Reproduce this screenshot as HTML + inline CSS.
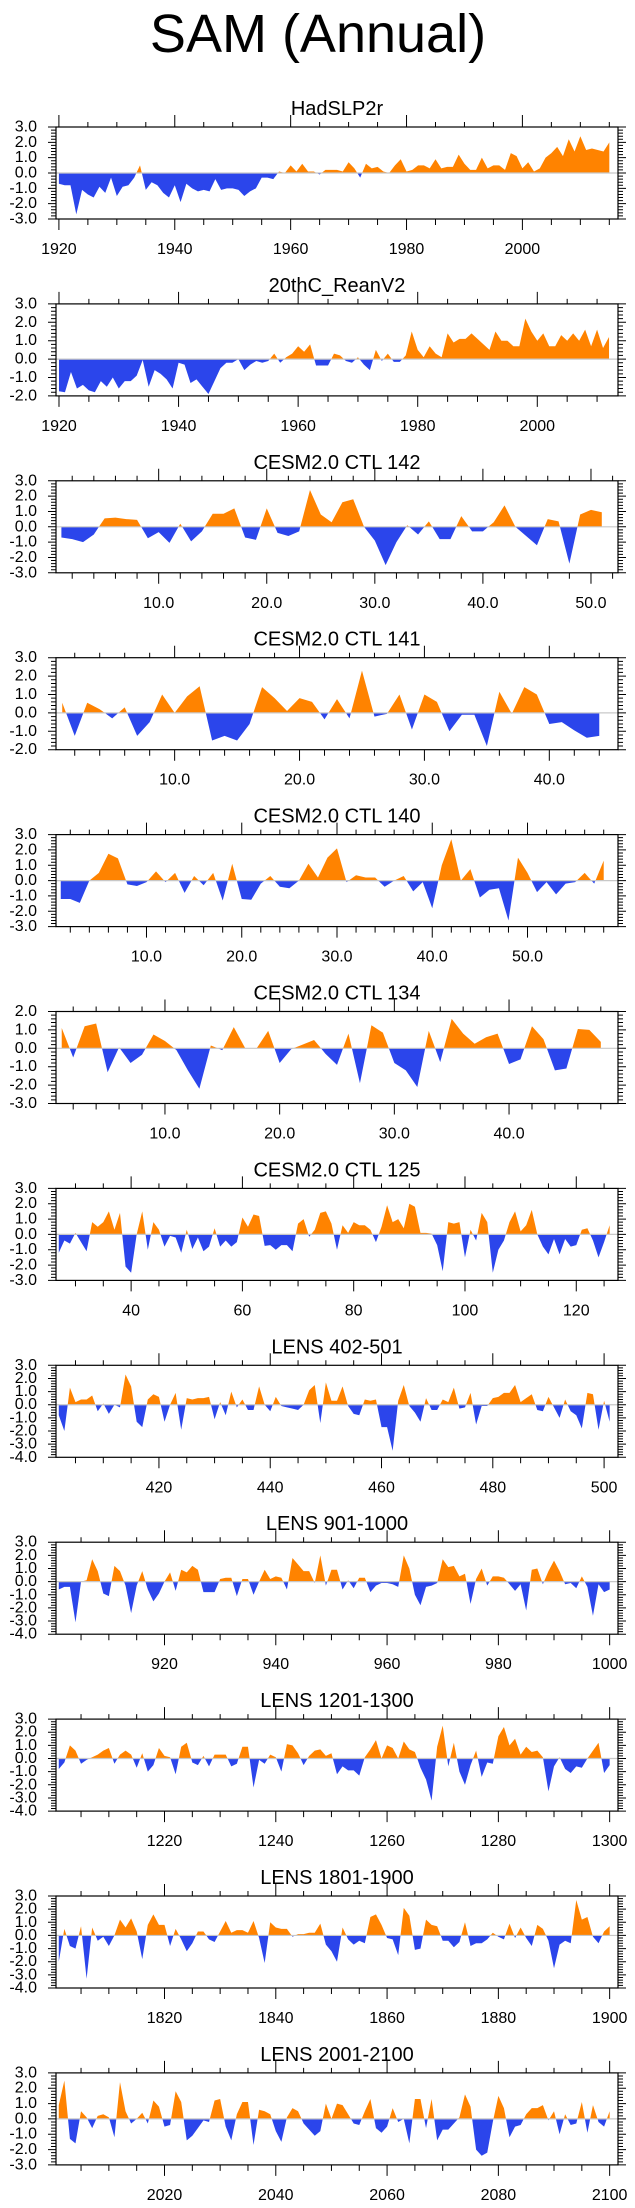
<!DOCTYPE html>
<html><head><meta charset="utf-8"><title>SAM (Annual)</title>
<style>
html,body{margin:0;padding:0;background:#fff;}
svg{display:block;font-family:"Liberation Sans",Arial,sans-serif;}
</style></head>
<body>
<svg id="chart" width="635" height="2208" viewBox="0 0 635 2208" xmlns="http://www.w3.org/2000/svg">
<rect x="0" y="0" width="635" height="2208" fill="#fff"/>
<text x="318" y="52" font-size="54" text-anchor="middle">SAM (Annual)</text>
</svg>
<script>
const panelTitles = ["HadSLP2r","20thC_ReanV2","CESM2.0 CTL 142","CESM2.0 CTL 141","CESM2.0 CTL 140","CESM2.0 CTL 134","CESM2.0 CTL 125","LENS 402-501","LENS 901-1000","LENS 1201-1300","LENS 1801-1900","LENS 2001-2100"];
const startYears = [1920,1920,1,1,1,1,27,402,901,1201,1801,2001];
const yMins = [-3,-2,-3,-2,-3,-3,-3,-4,-4,-4,-4,-3];
const yMaxs = [3,3,3,3,3,2,3,3,3,3,3,3];
const xMajorSteps = [20,20,10,10,10,10,20,20,20,20,20,20];
const xMinorSteps = [5,5,2,2,2,2,5,5,5,5,5,5];

const hadslp2r = [-0.7,-0.8,-0.8,-2.7,-1.1,-1.4,-1.6,-0.9,-1.3,-0.3,
-1.5,-0.9,-0.8,-0.3,0.5,-1.1,-0.6,-0.8,-1.3,-1.6,
-0.8,-1.9,-0.7,-1.0,-1.2,-1.1,-1.2,-0.4,-1.1,-1.0,
-1.0,-1.1,-1.5,-1.2,-1.0,-0.3,-0.3,-0.4,0.1,0.0,
0.5,0.1,0.6,0.1,0.1,-0.1,0.2,0.2,0.2,0.1,
0.7,0.3,-0.3,0.6,0.3,0.4,0.1,0.0,0.5,0.9,
0.1,0.2,0.5,0.5,0.3,0.9,0.3,0.4,0.4,1.2,
0.6,0.2,0.2,1.0,0.3,0.5,0.5,0.2,1.3,1.1,
0.3,0.7,0.1,0.3,1.0,1.3,1.7,1.1,2.2,1.4,
2.4,1.5,1.6,1.5,1.4,2.0];
const reanV2 = [-1.75,-1.8,-0.7,-1.6,-1.4,-1.7,-1.8,-1.2,-1.5,-1.0,
-1.6,-1.2,-1.2,-0.9,-0.05,-1.5,-0.6,-0.8,-1.1,-1.6,
-0.2,-0.3,-1.3,-1.1,-1.5,-1.9,-1.2,-0.5,-0.2,-0.2,
0.0,-0.6,-0.3,-0.1,-0.2,-0.1,0.3,-0.2,0.1,0.3,
0.7,0.4,0.8,-0.35,-0.35,-0.35,0.3,0.2,-0.1,-0.2,
0.1,-0.3,-0.6,0.5,-0.1,0.3,-0.15,-0.15,0.2,1.5,
0.5,0.1,0.7,0.3,0.1,1.4,0.9,1.1,1.1,1.4,
1.1,0.8,0.5,1.5,1.0,1.0,0.7,0.7,2.2,1.5,
1.0,1.4,0.7,0.7,1.3,1.0,1.4,1.0,1.6,0.7,
1.6,0.6,1.2];
const ctl142 = [-0.7,-0.8,-1.0,-0.5,0.55,0.6,0.5,0.45,-0.75,-0.35,
-1.05,0.2,-0.95,-0.3,0.85,0.85,1.2,-0.7,-0.85,1.2,
-0.4,-0.6,-0.3,2.4,0.8,0.3,1.6,1.8,0.0,-0.9,
-2.5,-1.0,0.1,-0.5,0.35,-0.8,-0.8,0.7,-0.3,-0.3,
0.3,1.4,0.0,-0.6,-1.2,0.5,0.35,-2.4,0.8,1.1,0.95];
const ctl141 = [0.55,-1.25,0.55,0.2,-0.3,0.3,-1.25,-0.5,1.0,0.0,
0.9,1.45,-1.5,-1.25,-1.5,-0.6,1.4,0.8,0.1,0.8,
0.6,-0.35,0.75,-0.3,2.3,-0.2,-0.05,1.0,-0.9,1.0,
0.6,-1.0,-0.1,-0.1,-1.8,1.15,-0.05,1.4,1.0,-0.6,
-0.5,-0.95,-1.35,-1.25];
const ctl140 = [-1.2,-1.2,-1.45,0.0,0.5,1.75,1.45,-0.25,-0.35,-0.1,
0.6,-0.1,0.5,-0.8,0.3,-0.3,0.5,-1.3,1.1,-1.2,
-1.25,-0.2,0.3,-0.4,-0.5,0.0,1.1,0.2,1.5,2.1,
-0.1,0.35,0.2,0.2,-0.4,0.0,0.3,-0.7,-0.1,-1.8,
1.0,2.7,0.0,0.75,-1.1,-0.6,-0.5,-2.6,1.5,0.5,
-0.75,-0.1,-0.9,-0.2,-0.1,0.5,-0.2,1.3];
const ctl134 = [1.1,-0.5,1.2,1.35,-1.3,0.05,-0.8,-0.35,0.75,0.4,
-0.1,-1.2,-2.2,0.15,-0.1,1.15,0.0,0.0,0.95,-0.8,
-0.05,0.2,0.45,-0.3,-0.9,0.8,-1.9,1.25,0.85,-0.8,
-1.2,-2.1,0.95,-0.75,1.6,0.8,0.25,0.6,0.8,-0.85,
-0.6,1.2,0.5,-1.2,-1.1,1.05,1.0,0.35];
const ctl125 = [-1.2,-0.4,-0.6,0.1,-0.5,-1.1,0.8,0.5,0.8,1.5,
0.3,1.4,-2.1,-2.5,0.0,1.5,-1.0,0.8,0.3,-0.8,
-0.1,-0.2,-1.2,0.3,-0.95,-0.2,-1.1,-0.8,0.4,-0.8,
-0.4,-0.8,-0.5,1.1,0.5,1.3,1.2,-0.75,-0.7,-1.0,
-0.7,-0.7,-1.1,0.7,1.0,-0.15,0.3,1.4,1.5,0.7,
-1.0,0.6,0.1,0.8,0.6,0.6,0.3,-0.5,0.5,1.9,
0.8,1.0,0.4,2.0,1.8,0.1,0.1,0.05,-0.7,-2.4,
0.8,0.7,0.8,-1.5,0.3,-0.4,1.4,0.8,-2.5,-1.0,
-0.4,0.8,1.5,0.2,0.6,1.6,0.0,-0.8,-1.3,-0.3,
-1.3,-0.3,-0.8,-0.7,0.3,0.4,-0.4,-1.5,-0.5,0.6];
const lens402 = [-0.8,-2.0,1.3,0.2,0.4,0.4,0.7,-0.5,0.1,-0.7,
0.0,-0.2,2.3,1.4,-1.3,-1.7,0.4,0.8,0.6,-1.3,
0.0,0.9,-1.9,0.5,0.4,0.5,0.5,0.6,-1.1,0.2,
-0.8,1.0,-0.2,0.4,-0.4,-0.4,1.4,0.0,-0.5,0.6,
-0.1,-0.2,-0.3,-0.4,0.0,1.1,1.5,-1.4,1.7,0.3,
0.3,1.4,-0.1,-0.7,-0.8,0.4,0.3,0.4,-1.7,-1.7,
-3.5,0.3,1.5,-0.1,-0.6,-1.3,0.5,-0.4,-0.4,0.4,
0.2,1.3,-0.3,-0.2,0.9,-1.5,-0.1,-0.1,0.5,0.6,
0.9,0.9,1.5,0.2,0.5,0.8,-0.4,-0.5,0.6,-0.2,
-1.0,0.4,-0.5,-0.8,-1.8,0.9,0.8,-1.9,0.3,-1.3];
const lens901 = [-0.6,-0.4,-0.4,-3.1,0.0,0.1,1.7,0.8,-0.9,-1.1,
1.2,0.8,-0.3,-2.4,-0.3,0.8,-0.6,-1.5,-0.9,0.0,
0.7,-0.7,0.9,0.7,1.2,0.9,-0.8,-0.8,-0.8,0.2,
0.3,0.3,-1.1,0.2,0.2,-1.0,0.0,0.9,0.2,0.4,
0.3,-0.6,1.8,1.3,0.8,0.8,-0.1,2.0,-0.3,0.9,
0.9,-0.6,0.1,-0.5,0.3,0.3,-0.8,-0.3,-0.1,-0.1,
-0.2,-0.4,2.0,1.0,-1.0,-1.8,-0.4,-0.3,-0.1,1.7,
1.1,1.2,0.4,0.6,-1.7,0.2,1.0,-0.3,0.4,0.4,
0.3,-0.2,-0.7,-0.2,-2.2,0.9,1.0,-0.2,0.8,1.6,
0.8,-0.2,-0.1,-0.5,0.4,-0.4,-2.6,-0.2,-0.8,-0.6];
const lens1201 = [-0.8,-0.3,1.0,0.6,-0.4,-0.1,0.1,0.3,0.6,0.8,
-0.4,0.3,0.6,0.3,-0.7,0.4,-1.0,-0.5,0.8,0.2,
0.1,-1.2,0.9,1.2,-0.3,-0.5,0.2,-0.6,0.3,0.3,
0.3,-0.6,-0.4,0.9,0.9,-2.2,-0.1,-0.4,0.3,0.1,
-1.0,1.1,1.0,0.4,-0.5,0.2,0.6,0.7,0.2,0.4,
-1.2,-0.6,-0.9,-0.9,-1.3,0.1,0.7,1.4,0.0,1.0,
0.8,0.0,1.3,0.7,0.5,-0.7,-1.6,-3.2,0.9,2.5,
-0.6,1.2,-1.0,-2.0,-0.5,0.6,-1.4,-0.3,-0.4,1.7,
2.4,1.0,1.5,0.3,0.9,0.5,0.6,0.1,-2.5,-0.6,
0.1,-0.8,-1.1,-0.6,-0.7,0.0,0.6,1.2,-1.1,-0.5];
const lens1801 = [-2.0,0.5,-0.8,-1.0,0.7,-3.3,0.6,-0.4,-0.1,-0.8,
0.0,1.2,0.6,1.3,0.3,-1.8,0.8,1.6,0.8,0.8,
-0.8,0.5,-0.3,-1.2,-0.6,0.3,0.3,-0.3,-0.5,0.3,
1.1,0.2,0.4,0.4,0.2,1.1,-0.2,-2.1,1.0,0.6,
0.5,0.5,-0.1,0.1,0.1,0.2,0.2,0.9,-0.7,-1.2,
-2.0,0.6,-0.3,-0.7,-0.4,-0.6,1.4,1.6,0.8,-0.2,
-0.3,-1.5,2.1,1.5,-1.1,-1.0,1.2,0.8,0.7,-0.4,
-0.4,-0.9,-0.5,1.0,-0.8,-0.6,-0.6,-0.3,0.2,-0.1,
-0.3,0.9,-0.2,0.6,-0.2,-0.8,0.8,0.5,-0.4,-2.5,
-0.7,-0.4,-0.6,2.7,1.2,1.4,-0.1,-0.6,0.3,0.7];
const lens2001 = [0.9,2.5,-1.3,-1.6,0.5,0.1,-0.6,0.2,0.3,0.1,
-1.2,2.4,0.5,-0.3,0.0,0.4,-0.3,1.2,0.8,-0.5,
-0.4,1.8,1.1,-1.4,-1.1,-0.6,-0.1,-0.2,1.2,1.3,
-0.5,-1.4,0.3,1.1,1.1,-1.7,0.6,0.5,0.3,-0.8,
-1.5,0.1,0.7,0.5,-0.3,-0.7,-1.1,-0.8,1.0,0.0,
1.0,0.9,0.3,-0.3,-0.4,0.5,1.3,-0.6,-0.9,-0.5,
0.7,-0.2,0.0,-1.6,1.3,1.3,-0.6,1.3,-1.4,-0.7,
-0.7,-0.3,0.1,1.6,0.8,-2.0,-2.4,-2.2,-0.2,1.5,
0.7,-1.2,-0.5,-0.4,0.3,0.7,0.7,0.9,-0.1,0.5,
-1.0,0.3,-0.4,-0.3,1.1,-0.9,0.9,-0.2,-0.5,0.5];

const allSeries = [hadslp2r,reanV2,ctl142,ctl141,ctl140,ctl134,ctl125,lens402,lens901,lens1201,lens1801,lens2001];

const NS = "http://www.w3.org/2000/svg";
const svg = document.getElementById('chart');
const FL = 56, FR = 618, FH = 92;
const ORANGE = "#ff8300", BLUE = "#2b45eb";

function mk(tag, attrs, parent){
  const e = document.createElementNS(NS, tag);
  for (const k in attrs) e.setAttribute(k, attrs[k]);
  (parent||svg).appendChild(e);
  return e;
}

allSeries.forEach(function(vals, p){
  const top = 127 + 176.9 * p, bot = top + FH;
  const first = startYears[p], last = first + vals.length - 1;
  const xmin = first - 0.5, xmax = last + 1.5;
  const ymin = yMins[p], ymax = yMaxs[p];
  const xs = function(v){ return FL + (v - xmin) / (xmax - xmin) * (FR - FL); };
  const ys = function(v){ return bot - (v - ymin) / (ymax - ymin) * FH; };

  const g = mk('g', {});
  
  

  const t = mk('text', {x: (FL+FR)/2, y: top - 12, 'font-size': 20, 'text-anchor': 'middle'}, g);
  t.textContent = panelTitles[p];
  
  

  const pts = [];
  for (let i = 0; i < vals.length; i++) {
    const x = first + i, v = vals[i];
    if (i > 0) {
      const pv = vals[i-1];
      if ((pv > 0 && v < 0) || (pv < 0 && v > 0)) {
        const xc = (x - 1) + pv / (pv - v);
        pts.push([xc, 0]);
      }
    }
    pts.push([x, v]);
  }
  function poly(sign){
    let d = 'M' + xs(pts[0][0]).toFixed(2) + ',' + ys(0).toFixed(2);
    pts.forEach(function(q){
      const v = sign > 0 ? Math.max(q[1], 0) : Math.min(q[1], 0);
      d += 'L' + xs(q[0]).toFixed(2) + ',' + ys(v).toFixed(2);
    });
    d += 'L' + xs(pts[pts.length-1][0]).toFixed(2) + ',' + ys(0).toFixed(2) + 'Z';
    return d;
  }
  const pos = mk('path', {d: poly(1), fill: ORANGE, stroke: 'none'}, g);
  
  
  const neg = mk('path', {d: poly(-1), fill: BLUE, stroke: 'none'}, g);
  
  

  const zl = mk('line', {x1: FL, x2: FR, y1: ys(0), y2: ys(0), stroke: '#c8c8c8', 'stroke-width': 1.2}, g);
  
  

  const fr = mk('rect', {x: FL, y: top, width: FR-FL, height: FH, fill: 'none', stroke: '#000', 'stroke-width': 1.2}, g);
  
  

  let tk = '';
  const mi = xMinorSteps[p], ma = xMajorSteps[p];
  for (let v = Math.ceil(xmin / mi) * mi; v <= xmax; v += mi) {
    const x = xs(v).toFixed(2);
    const major = (v % ma === 0);
    const L = major ? 11 : 6, Lt = major ? 12 : 5;
    tk += 'M' + x + ',' + bot + 'v' + L + 'M' + x + ',' + top + 'v' + (-Lt);
    if (major) {
      const lb = mk('text', {x: x, y: bot + 35, 'font-size': 16, 'text-anchor': 'middle'}, g);
      lb.textContent = (p >= 2 && p <= 5) ? v.toFixed(1) : String(v);
      
      
    }
  }
  for (let k = Math.round(ymin * 5); k <= Math.round(ymax * 5); k++) {
    const v = k / 5, y = ys(v).toFixed(2);
    const major = (k % 5 === 0);
    const L = major ? 8 : 5;
    tk += 'M' + FL + ',' + y + 'h' + (-L) + 'M' + FR + ',' + y + 'h' + L;
    if (major) {
      const lb = mk('text', {x: 37, y: y, 'font-size': 16, 'text-anchor': 'end', 'dominant-baseline': 'central'}, g);
      lb.textContent = (v).toFixed(1);
      
      
    }
  }
  const tp = mk('path', {d: tk, stroke: '#000', 'stroke-width': 1, fill: 'none'}, g);
  
  
});
</script>
</body></html>
